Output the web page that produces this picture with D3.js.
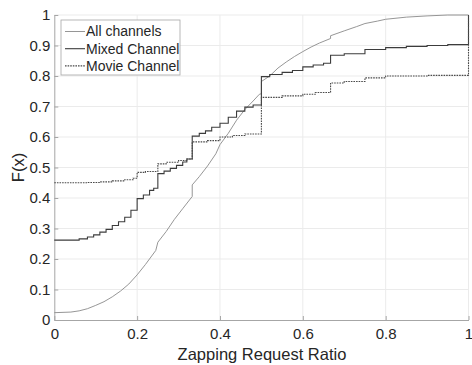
<!DOCTYPE html>
<html>
<head>
<meta charset="utf-8">
<script src="https://cdn.jsdelivr.net/npm/d3@7"></script>
<style>
  body { margin: 0; background: #fff; }
  svg text { font-family: "Liberation Sans", Arial, sans-serif; fill: #262626; }
</style>
</head>
<body>
<div id="chart"></div>
<script>
// CDF breakpoints
const seriesNames = ["All channels", "Mixed Channel", "Movie Channel"];

// all channels: drawn as a line, repeated x = jump
const allX = [0, 0.04, 0.06, 0.08, 0.1, 0.12, 0.14, 0.16, 0.18, 0.2, 0.22, 0.245, 0.25, 0.27, 0.29, 0.31, 0.333, 0.333, 0.35, 0.37, 0.39, 0.4, 0.42, 0.44, 0.46, 0.48, 0.495, 0.5, 0.5, 0.52, 0.54, 0.56, 0.58, 0.6, 0.62, 0.64, 0.667, 0.667, 0.7, 0.73, 0.75, 0.78, 0.8, 0.85, 0.9, 0.95, 1];
const allF = [0.024, 0.026, 0.03, 0.037, 0.048, 0.06, 0.076, 0.095, 0.118, 0.148, 0.182, 0.228, 0.255, 0.29, 0.33, 0.365, 0.405, 0.443, 0.47, 0.505, 0.545, 0.575, 0.612, 0.655, 0.69, 0.718, 0.74, 0.742, 0.782, 0.80, 0.826, 0.846, 0.864, 0.88, 0.895, 0.908, 0.923, 0.932, 0.948, 0.962, 0.972, 0.98, 0.986, 0.993, 0.997, 1.0, 1.0];

// mixed channel: step function
const mixedX = [0, 0.06, 0.08, 0.095, 0.11, 0.125, 0.14, 0.155, 0.17, 0.185, 0.2, 0.215, 0.23, 0.24, 0.25, 0.265, 0.28, 0.295, 0.31, 0.32, 0.333, 0.35, 0.365, 0.38, 0.4, 0.42, 0.44, 0.46, 0.48, 0.5, 0.52, 0.55, 0.575, 0.6, 0.625, 0.65, 0.667, 0.7, 0.75, 0.8, 0.85, 0.9, 0.95, 1];
const mixedF = [0.262, 0.266, 0.272, 0.279, 0.288, 0.297, 0.31, 0.322, 0.337, 0.36, 0.398, 0.41, 0.425, 0.432, 0.48, 0.488, 0.497, 0.507, 0.518, 0.528, 0.603, 0.612, 0.62, 0.632, 0.645, 0.665, 0.685, 0.698, 0.705, 0.798, 0.805, 0.812, 0.818, 0.83, 0.836, 0.842, 0.868, 0.873, 0.887, 0.893, 0.897, 0.9, 0.903, 1.0];

// movie channel: step function
const movieX = [0, 0.08, 0.11, 0.14, 0.17, 0.19, 0.2, 0.22, 0.25, 0.27, 0.3, 0.32, 0.333, 0.37, 0.4, 0.43, 0.46, 0.5, 0.55, 0.6, 0.63, 0.667, 0.7, 0.75, 0.8, 0.9, 1];
const movieF = [0.45, 0.451, 0.453, 0.456, 0.46, 0.465, 0.484, 0.487, 0.512, 0.517, 0.523, 0.528, 0.584, 0.588, 0.6, 0.605, 0.61, 0.73, 0.735, 0.74, 0.746, 0.777, 0.782, 0.794, 0.8, 0.802, 1.0];

const xTicks = [0, 0.2, 0.4, 0.6, 0.8, 1];
const yTicks = [0, 0.1, 0.2, 0.3, 0.4, 0.5, 0.6, 0.7, 0.8, 0.9, 1];

const W = 472, H = 365;
const margin = {top: 15, right: 2, bottom: 45, left: 54};
const width = W - margin.left - margin.right;
const height = H - margin.top - margin.bottom;

const svg = d3.select("#chart").append("svg")
    .attr("width", W)
    .attr("height", H);
const g = svg.append("g")
    .attr("transform", `translate(${margin.left},${margin.top})`);

const x = d3.scaleLinear().domain([0, 1]).range([0.3, width - 1.5]);
const y = d3.scaleLinear().domain([0, 1]).range([height, 0]);

// grid
g.append("g").selectAll("line")
    .data(xTicks.slice(1))
    .enter().append("line")
    .attr("x1", d => x(d)).attr("x2", d => x(d))
    .attr("y1", 0).attr("y2", height)
    .attr("stroke", "#ebebeb");
g.append("g").selectAll("line")
    .data(yTicks.slice(1))
    .enter().append("line")
    .attr("x1", x(0)).attr("x2", x(1))
    .attr("y1", d => y(d)).attr("y2", d => y(d))
    .attr("stroke", "#ebebeb");

// axes (ticks inside, like matlab)
const xAxis = g.append("g")
    .attr("transform", `translate(0,${height})`)
    .call(d3.axisBottom(x).tickValues(xTicks).tickFormat(d3.format("")).tickSizeInner(-4).tickSizeOuter(0).tickPadding(8));
const yAxis = g.append("g")
    .attr("transform", `translate(${x(0)},0)`)
    .call(d3.axisLeft(y).tickValues(yTicks).tickFormat(d3.format("")).tickSizeInner(-4).tickSizeOuter(0).tickPadding(4));
[xAxis, yAxis].forEach(a => {
    a.select(".domain").attr("stroke", "#a6a6a6");
    a.selectAll(".tick line").attr("stroke", "#a6a6a6");
    a.selectAll("text").style("font-size", "15px").attr("fill", "#262626");
});
xAxis.selectAll("text").attr("dy", "0.72em");

// lines
const stepLine = d3.line().x(d => x(d[0])).y(d => y(d[1])).curve(d3.curveStepAfter);
const plainLine = d3.line().x(d => x(d[0])).y(d => y(d[1]));

const styles = [
    {stroke: "#8a8a8a", width: 0.9, dash: null},
    {stroke: "#3c3c3c", width: 1.1, dash: null},
    {stroke: "#4a4a4a", width: 1.1, dash: "1.6,1"}
];

const series = [
    {data: d3.zip(allX, allF), gen: plainLine},
    {data: d3.zip(mixedX, mixedF), gen: stepLine},
    {data: d3.zip(movieX, movieF), gen: stepLine}
];

series.forEach((s, i) => {
    g.append("path")
        .attr("d", s.gen(s.data))
        .attr("fill", "none")
        .attr("stroke", styles[i].stroke)
        .attr("stroke-width", styles[i].width)
        .attr("stroke-dasharray", styles[i].dash);
});

// legend
const legend = g.append("g").attr("transform", "translate(7,5)");
legend.append("rect")
    .attr("width", 119).attr("height", 55)
    .attr("fill", "#fff").attr("stroke", "#a6a6a6").attr("stroke-width", 0.8);
seriesNames.forEach((name, i) => {
    const row = legend.append("g").attr("transform", `translate(0,${11.5 + i * 17.2})`);
    row.append("line")
        .attr("x1", 4).attr("x2", 24)
        .attr("stroke", styles[i].stroke)
        .attr("stroke-width", styles[i].width)
        .attr("stroke-dasharray", styles[i].dash);
    row.append("text")
        .attr("x", 25).attr("dy", "0.35em")
        .style("font-size", "14px")
        .text(name);
});

// axis labels
svg.append("text")
    .attr("x", margin.left + width / 2).attr("y", H - 5)
    .attr("text-anchor", "middle")
    .style("font-size", "16.5px")
    .text("Zapping Request Ratio");

svg.append("text")
    .attr("transform", `translate(24,${margin.top + height / 2}) rotate(-90)`)
    .attr("text-anchor", "middle")
    .style("font-size", "16.5px")
    .text("F(x)");
</script>
</body>
</html>
